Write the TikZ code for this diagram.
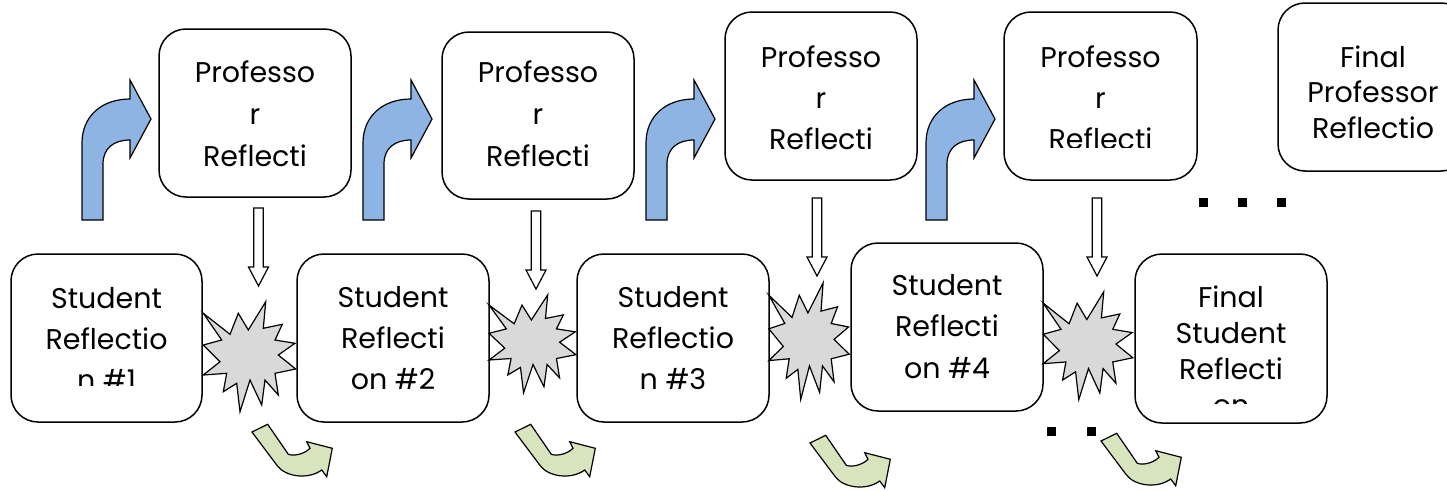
\documentclass[tikz,border=0pt]{standalone}
\usepackage{fontspec}
\setmainfont{Poppins}
\definecolor{bluefill}{HTML}{8EB4E3}
\definecolor{greenfill}{HTML}{D7E4BD}
\definecolor{starfill}{HTML}{D9D9D9}
\tikzset{
  rbox/.style={draw, line width=1.5pt, rounded corners=27pt, fill=white, inner sep=0pt,
    minimum width=192pt, minimum height=168pt},
  btext/.style={inner sep=0pt, anchor=base},
  shapeline/.style={draw=black, line width=1.2pt, line join=miter},
  blueshape/.style={shapeline, fill=bluefill},
  greenshape/.style={shapeline, fill=greenfill},
  starshape/.style={shapeline, fill=starfill},
  downshape/.style={shapeline, fill=white},
  dotsq/.style={fill=black},
  pics/bluebend/.style={code={
    \path[blueshape] (0,0) -- (0,-77) .. controls (0,-104) and (20,-121) .. (48,-121)
      -- (48,-140) -- (69,-101) -- (48,-62) -- (48,-80)
      .. controls (32,-80) and (21,-72) .. (21,-56) -- (21,0) -- cycle;
  }},
  pics/downarrow/.style={code={
    \path[downshape] (-4.75,0) -- (4.75,0) -- (4.75,59) -- (10,59) -- (0,78) -- (-10,59) -- (-4.75,59) -- cycle;
  }},
  pics/boom/.style={code={
    \path[starshape] (-46.2,-43.7) -- (-19.5,-22.7) -- (-11.2,-43.7) -- (-1.2,-27) -- (16.2,-55.3)
      -- (13.8,-28.7) -- (32.8,-32.7) -- (25.5,-17) -- (45.5,-13.7) -- (28.8,-2) -- (46.2,12)
      -- (25.5,16.3) -- (28.8,38) -- (15.5,23) -- (12.2,48) -- (0.5,23) -- (-9.5,54.7)
      -- (-12.8,26.3) -- (-26.2,34.7) -- (-22.8,16.3) -- (-46.2,18) -- (-29.5,4.7)
      -- (-46.2,-12) -- (-27.8,-17) -- cycle;
  }},
  pics/greenturn/.style={code={
    \path[greenshape] (-1,8) -- (23.7,41) .. controls (32,53) and (55,56) .. (68.7,46)
      -- (73.7,52.7) -- (79.3,24.3) -- (53.7,17.7) -- (57,24.3)
      .. controls (50,31) and (40,32) .. (35.3,30.3) -- (14.7,0.3) -- cycle;
  }}
}
\newcommand{\boxlines}[2]{\parbox[t]{186pt}{\centering\fontsize{28.5}{#1}\selectfont #2}}
\begin{document}
\begin{tikzpicture}[x=1pt,y=-1pt]
\useasboundingbox (0,0) rectangle (1447,490);
\clip (0,0) rectangle (1447,490);
\fill[white] (0,0) rectangle (1447,490);

% professor boxes
\node[rbox] (p1) at (255,113) {};
\node[rbox, minimum height=167pt] (p2) at (538,115.5) {};
\node[rbox] (p3) at (821,96) {};
\node[rbox, minimum width=193pt] (p4) at (1100.5,96) {};
\node[rbox, minimum width=190pt] (pf) at (1373,87) {};
% student boxes
\node[rbox, minimum width=191pt] (s1) at (106.5,338) {};
\node[rbox] (s2) at (393,338) {};
\node[rbox] (s3) at (673,338) {};
\node[rbox] (s4) at (947,327) {};
\node[rbox, minimum height=169pt] (sf) at (1231,338.5) {};

% texts (clipped to the text area of each box)
\begin{scope}\clip (159,29) rectangle (351,197);
\node[btext] (p1t) at (255,82) {\boxlines{42}{Professo\\r\\Reflecti}};\end{scope}
\begin{scope}\clip (442,32) rectangle (634,199);
\node[btext] (p2t) at (538,82) {\boxlines{42}{Professo\\r\\Reflecti}};\end{scope}
\begin{scope}\clip (725,12) rectangle (917,180);
\node[btext] (p3t) at (821,67) {\boxlines{41}{Professo\\r\\Reflecti}};\end{scope}
\begin{scope}\clip (1004,12) rectangle (1197,147);
\node[btext] (p4t) at (1100.5,67) {\boxlines{41}{Professo\\r\\Reflecti}};\end{scope}
\begin{scope}\clip (1278,3) rectangle (1468,171);
\node[btext] (pft) at (1373,67) {\boxlines{35.5}{Final\\Professor\\Reflectio}};\end{scope}
\begin{scope}\clip (11,254) rectangle (202,385);
\node[btext] (s1t) at (106.5,308) {\boxlines{41}{Student\\Reflectio\\n \#1}};\end{scope}
\begin{scope}\clip (297,254) rectangle (489,422);
\node[btext] (s2t) at (393,307) {\boxlines{41}{Student\\Reflecti\\on \#2}};\end{scope}
\begin{scope}\clip (577,254) rectangle (769,422);
\node[btext] (s3t) at (673,307) {\boxlines{41}{Student\\Reflectio\\n \#3}};\end{scope}
\begin{scope}\clip (851,243) rectangle (1043,411);
\node[btext] (s4t) at (947,295) {\boxlines{41.5}{Student\\Reflecti\\on \#4}};\end{scope}
\begin{scope}\clip (1135,254) rectangle (1327,403);
\node[btext] (sft) at (1231,307) {\boxlines{36}{Final\\Student\\Reflecti\\on}};\end{scope}

% blue bent arrows
\pic at (82,220) {bluebend};
\pic at (363,220) {bluebend};
\pic at (646,220) {bluebend};
\pic at (926,220) {bluebend};

% white down arrows
\pic at (258.5,208) {downarrow};
\pic at (536,211) {downarrow};
\pic at (817,198) {downarrow};
\pic at (1097,198) {downarrow};

% explosions
\pic at (249.5,357) {boom};
\pic[xscale=0.94, yscale=0.89] at (532.5,344) {boom};
\pic[xscale=0.87, yscale=1.06] at (809,341.5) {boom};
\pic[xscale=0.97, yscale=0.98] at (1088,346) {boom};

% green turn arrows
\pic at (253,424) {greenturn};
\pic at (516,424) {greenturn};
\pic at (811,435) {greenturn};
\pic at (1102,433) {greenturn};

% ellipsis dots
\fill[dotsq] (1199,198) rectangle ++(9,9);
\fill[dotsq] (1238,198) rectangle ++(9,9);
\fill[dotsq] (1277,198) rectangle ++(9,9);
\fill[dotsq] (1047,427) rectangle ++(9,9);
\fill[dotsq] (1087,427) rectangle ++(9,9);
\end{tikzpicture}
\end{document}
